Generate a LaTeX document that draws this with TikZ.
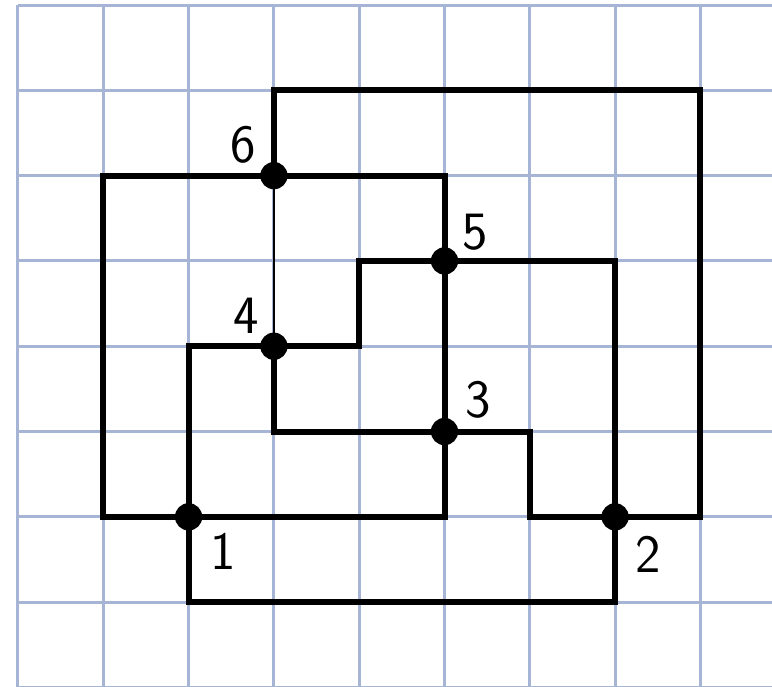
\documentclass[tikz,border=0pt]{standalone}
\definecolor{gridblue}{RGB}{166,180,214}
\begin{document}
\begin{tikzpicture}[
  blk/.style={line width=2pt,black},
  thinline/.style={line width=0.7pt,black},
  dot/.style={circle,fill=black,inner sep=0pt,minimum size=0.32cm},
  lbl/.style={font=\fontsize{18}{20}\selectfont\sffamily,inner sep=0pt}
]
\useasboundingbox (-0.211,-0.985) rectangle (8.839,7.059);
\clip (-0.211,-0.985) rectangle (8.839,7.059);
\draw[gridblue,line width=1pt] (0,-1.5) grid (9.5,7);
\coordinate (p1) at (2,1);
\coordinate (p2) at (7,1);
\coordinate (p3) at (5,2);
\coordinate (p4) at (3,3);
\coordinate (p5) at (5,4);
\coordinate (p6) at (3,5);
\draw[blk] (p6) -- (3,6) -- (8,6) -- (8,1) -- (p2);
\draw[blk] (p6) -- (1,5) -- (1,1) -- (5,1) -- (5,5) -- cycle;
\draw[blk] (p5) -- (7,4) -- (7,0) -- (2,0) -- (2,3) -- (4,3) -- (4,4) -- cycle;
\draw[blk] (p4) -- (3,2) -- (6,2) -- (6,1) -- (8,1);
\draw[thinline] (p6) -- (p4);
\node[dot] (n1) at (p1) {};
\node[dot] (n2) at (p2) {};
\node[dot] (n3) at (p3) {};
\node[dot] (n4) at (p4) {};
\node[dot] (n5) at (p5) {};
\node[dot] (n6) at (p6) {};
\node[lbl] (l1) at ([shift={(0.40,-0.41)}]p1) {1};
\node[lbl] (l2) at ([shift={(0.39,-0.44)}]p2) {2};
\node[lbl] (l3) at ([shift={(0.39,0.37)}]p3) {3};
\node[lbl] (l4) at ([shift={(-0.33,0.36)}]p4) {4};
\node[lbl] (l5) at ([shift={(0.36,0.34)}]p5) {5};
\node[lbl] (l6) at ([shift={(-0.36,0.36)}]p6) {6};
\end{tikzpicture}
\end{document}
